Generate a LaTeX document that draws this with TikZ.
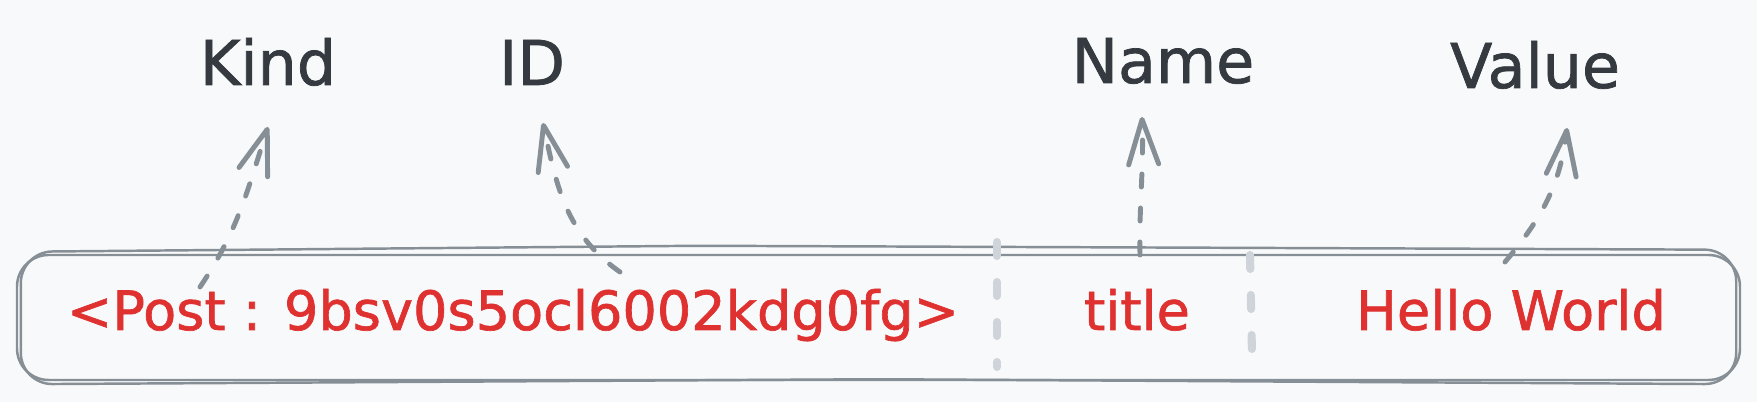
\documentclass[tikz,border=0pt]{standalone}
\usepackage{fontspec}
\setmainfont{DejaVu Sans}[FakeBold=1.2]
\usepackage{tikz}
\usetikzlibrary{arrows.meta, positioning}
\definecolor{PaperGrey}{RGB}{248,249,250}
\definecolor{InkDark}{RGB}{52,58,64}
\definecolor{KeyRed}{RGB}{224,49,49}
\definecolor{WireGrey}{RGB}{134,142,150}
\definecolor{SplitGrey}{RGB}{206,212,218}
\tikzset{
  fieldlabel/.style={anchor=base, text=InkDark, inner sep=2pt, font=\fontsize{17.6}{20}\selectfont},
  celltext/.style={anchor=base, text=KeyRed, inner sep=2pt, font=\fontsize{15.4}{18}\selectfont},
  rowbox/.style={draw=WireGrey, line width=0.7pt, rounded corners=9pt,
    minimum width=17.23cm, minimum height=1.25cm, inner sep=0pt},
  rowsketch/.style={draw=WireGrey, line width=0.7pt, rounded corners=9pt},
  splitline/.style={SplitGrey, line width=2.3pt, line cap=round, dash pattern=on 0.14cm off 0.26cm},
  pointer/.style={-{Straight Barb[length=4.5mm, width=3mm, round]}, WireGrey, line width=1.4pt,
    line cap=round, dash pattern=on 1.3mm off 2.1mm},
}

\begin{document}
\begin{tikzpicture}
  \fill[PaperGrey] (0,0) rectangle (17.57,4.02);
  % record row, drawn twice for the sketchy look
  \node[rowbox] (row) at (8.785,0.845) {};
  \draw[rowsketch] ([shift={(0.05,-0.03)}]row.south west) -- ([shift={(0.05,0.02)}]row.north west)
    -- ([shift={(-1.8,0.08)}]row.north) -- ([shift={(-0.05,0.04)}]row.north east)
    -- ([shift={(-0.05,-0.03)}]row.south east) -- ([shift={(0,0.02)}]row.south) -- cycle;
  \draw[splitline] (9.97,1.60) -- (9.97,0.35);
  \draw[splitline] (12.50,1.47) -- (12.52,0.47);

  \node[celltext] (keycell) at (5.13,0.72) {<Post : 9bsv0s5ocl6002kdg0fg>};
  \node[celltext] (titlecell) at (11.37,0.72) {title};
  \node[celltext] (hellocell) at (15.11,0.72) {Hello World};

  \node[fieldlabel] (kind) at (2.68,3.17) {Kind};
  \node[fieldlabel] (id) at (5.32,3.17) {ID};
  \node[fieldlabel] (name) at (11.63,3.19) {Name};
  \node[fieldlabel] (value) at (15.35,3.14) {Value};

  \coordinate (kindfoot) at (2.00,1.15);
  \coordinate (idfoot) at (6.20,1.30);
  \coordinate (namefoot) at (11.40,1.47);
  \coordinate (valuefoot) at (15.05,1.40);

  \draw[pointer] (kindfoot) to[out=56,in=-108] ([yshift=-4.2mm]kind.base);
  \draw[pointer] (idfoot) to[out=145,in=-78] ([shift={(1.1mm,-3.8mm)}]id.base);
  \draw[pointer] (namefoot) to[out=91,in=-88] ([shift={(-2.1mm,-3.4mm)}]name.base);
  \draw[pointer] (valuefoot) to[out=50,in=-97] ([shift={(3.2mm,-4mm)}]value.base);
\end{tikzpicture}
\end{document}
